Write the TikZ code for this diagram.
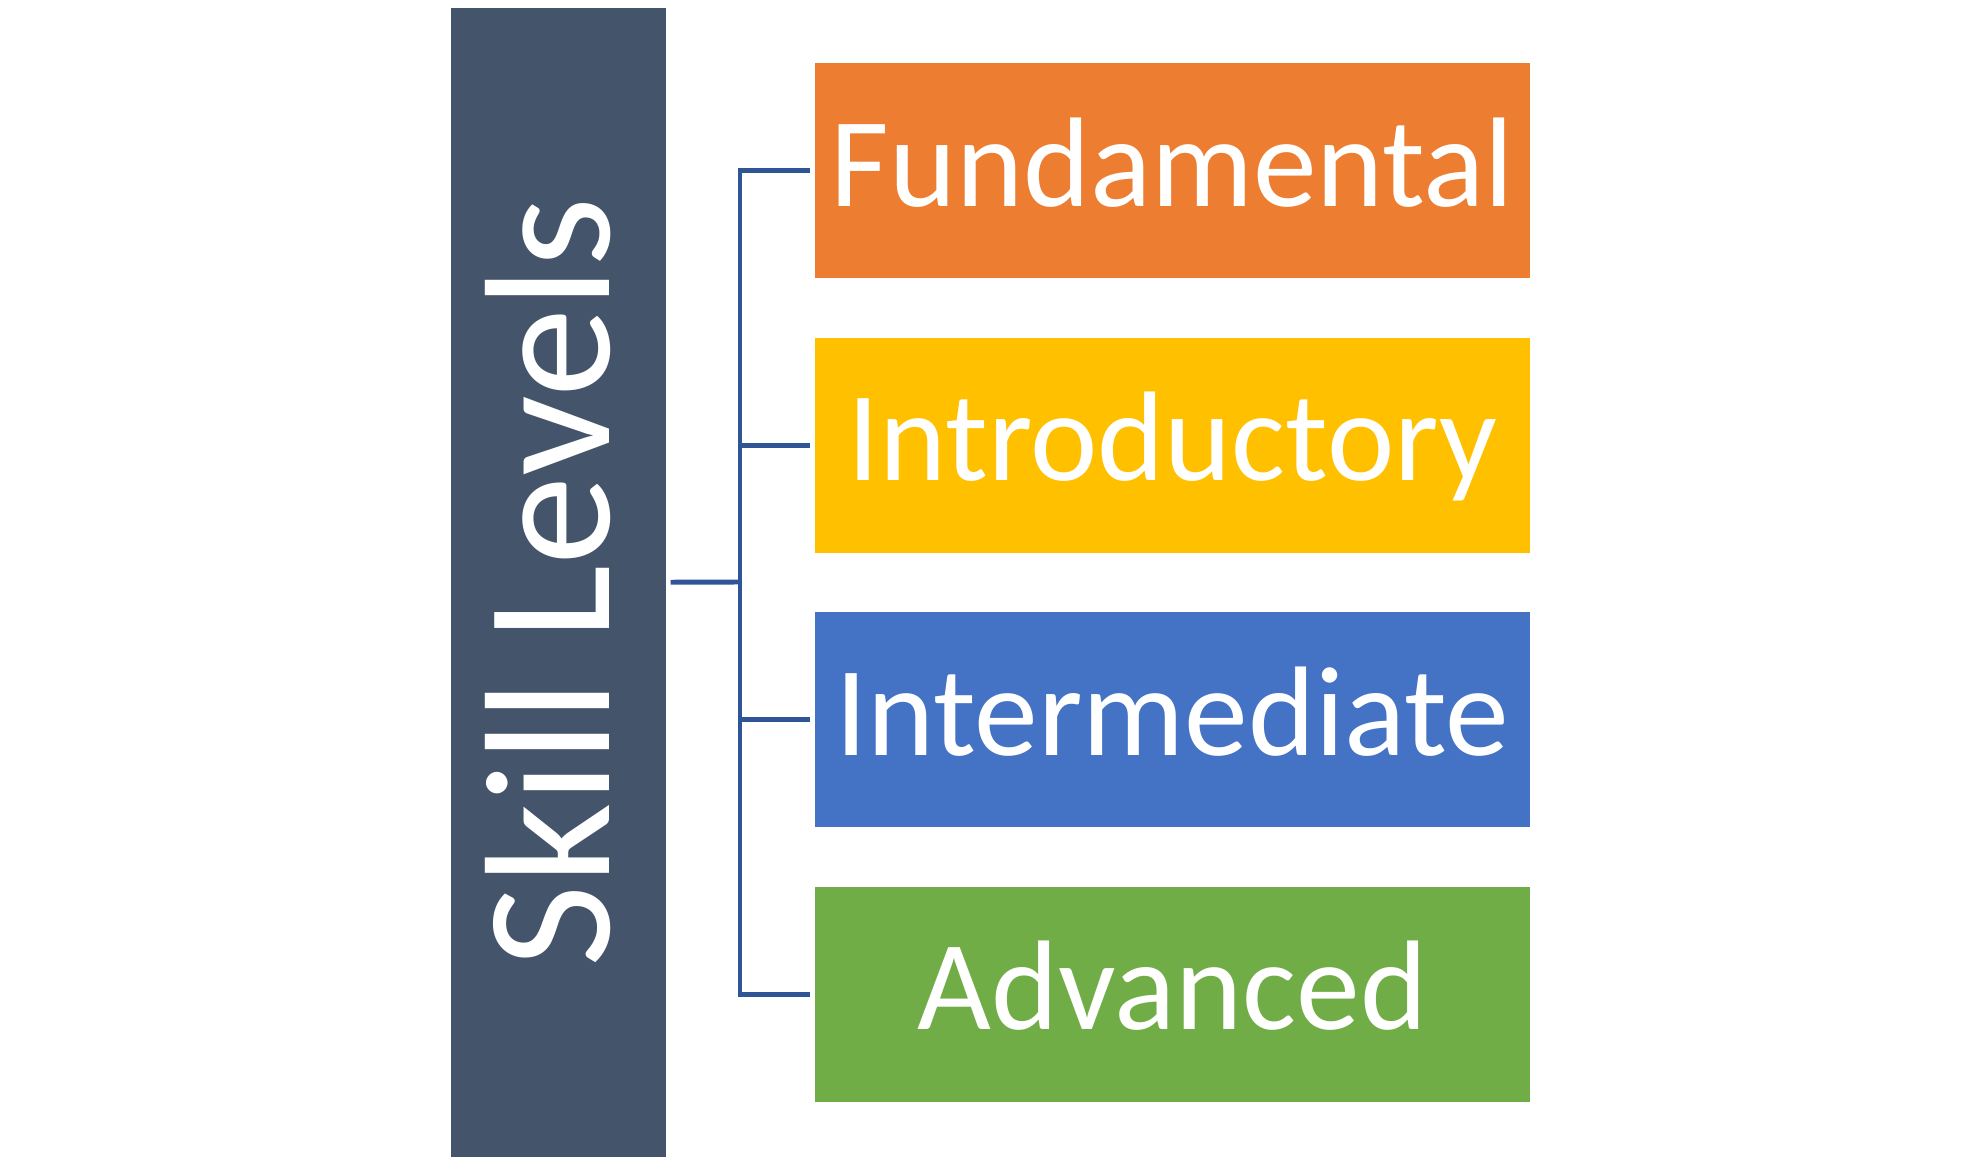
\documentclass[tikz,border=0pt]{standalone}
\usepackage{fontspec}
\setmainfont{Carlito}
\usetikzlibrary{positioning, calc}
\definecolor{slate}{HTML}{44546A}
\definecolor{lvlorange}{HTML}{ED7D31}
\definecolor{lvlyellow}{HTML}{FFC000}
\definecolor{lvlblue}{HTML}{4472C4}
\definecolor{lvlgreen}{HTML}{70AD47}
\definecolor{linkblue}{HTML}{2F5597}
\tikzset{
    levelbox/.style={rectangle, minimum width=7.15cm, minimum height=2.15cm, inner sep=0pt, outer sep=0pt, text height=0.87cm, text depth=0.16cm, text=white, font=\fontsize{36.3}{40}\selectfont},
    headbox/.style={rectangle, fill=slate, minimum width=11.49cm, minimum height=2.145cm, inner sep=0pt, outer sep=0pt},
    headtext/.style={inner sep=0pt, text=white, rotate=90, font=\fontsize{50.9}{56}\selectfont},
    link/.style={draw=linkblue, line width=1.4pt}
}
\begin{document}
\begin{tikzpicture}
    \useasboundingbox (0,0) rectangle (19.8,-11.68);
    \def \gap {0.05}
    \node[headbox, rotate=90] (skill) at (5.583,-5.822) {};
    \node[headtext] (skilltext) at ([xshift=-0.1cm]skill.center) {Skill Levels};
    \node[levelbox, fill=lvlorange] (lvl1) at (11.725,-1.708) {Fundamental};
    \node[levelbox, fill=lvlyellow, below=0.595cm of lvl1] (lvl2) {Introductory};
    \node[levelbox, fill=lvlblue, below=0.595cm of lvl2] (lvl3) {Intermediate};
    \node[levelbox, fill=lvlgreen, below=0.595cm of lvl3] (lvl4) {Advanced};
    \coordinate (join) at (7.40,-5.82);
    \draw[link] ([xshift=\gap cm]skill.south) -- (join);
    \draw[link] ([xshift=-\gap cm]lvl1.west) -- (lvl1.west -| join) -- (lvl4.west -| join) -- ([xshift=-\gap cm]lvl4.west);
    \foreach \s in {2,3}{
    \draw[link] (lvl\s.west -| join) -- ([xshift=-\gap cm]lvl\s.west);}
\end{tikzpicture}
\end{document}
